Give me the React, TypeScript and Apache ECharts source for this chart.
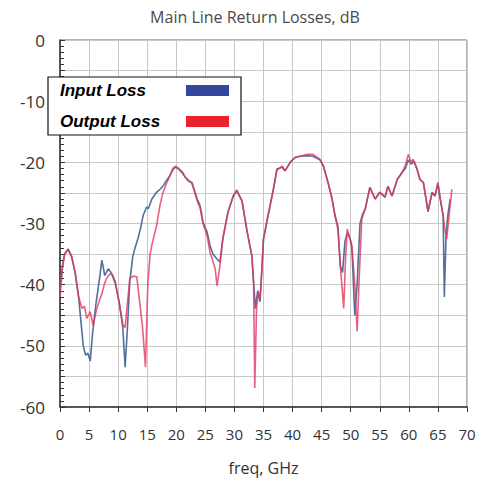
import React, { useEffect, useRef } from 'react';
import * as echarts from 'echarts';

const chartTitle = 'Main Line Return Losses, dB';
const xAxisName = 'freq, GHz';
const seriesNames = ['Input Loss', 'Output Loss'];

const inputFreq = [0, 0.4, 0.8, 1.4, 2.0, 2.6, 3.2, 3.6, 4.0, 4.4, 4.8, 5.2, 5.6, 6.2, 6.8, 7.2, 7.7, 8.3, 8.9, 9.5, 10.2, 10.8, 11.2, 11.6, 12.0, 12.5, 12.9, 13.4, 13.8, 14.3, 14.9, 15.2, 15.8, 16.6, 17.2, 17.7, 18.3, 18.9, 19.4, 19.8, 20.3, 21, 21.6, 22, 22.7, 23.6, 24.1, 24.6, 25.3, 25.8, 26.3, 27, 27.5, 28, 28.9, 29.8, 30.4, 31.3, 32.2, 33, 33.3, 33.6, 34.0, 34.4, 34.7, 35, 35.8, 36.7, 37.3, 38.2, 38.7, 39.6, 40.4, 41.3, 42.5, 43.5, 44.7, 45.3, 46.1, 46.8, 47.3, 47.8, 48.2, 48.6, 49.0, 49.4, 49.9, 50.2, 50.7, 51.1, 51.6, 52.0, 52.5, 53.3, 54.2, 55, 55.9, 56.4, 57.1, 58, 58.8, 59.4, 59.9, 60.4, 60.9, 61.4, 61.9, 62.5, 63.3, 64, 64.5, 65, 65.4, 65.9, 66.1, 66.4, 66.7, 67.1];
const inputLoss = [-41, -37, -35, -34.2, -35.5, -38, -42, -46, -50, -51.5, -51.2, -52.5, -48, -43, -39, -36, -38.5, -37.4, -38.2, -39.8, -43, -47, -53.5, -47, -39.5, -35.5, -34, -32.5, -31, -28.7, -27.3, -27.6, -26, -24.9, -24.4, -23.9, -23, -22.2, -21.2, -20.8, -21, -21.7, -22.5, -23, -23.3, -26, -27.1, -29.8, -31.4, -33.6, -35, -35.8, -36.3, -32.5, -28.1, -25.5, -24.7, -26.3, -31.4, -35.3, -39.5, -43.9, -41, -42.8, -37.9, -32.5, -28.7, -24.4, -21.1, -20.8, -21.4, -20, -19.2, -19, -18.9, -19, -19.6, -20.6, -23.3, -26, -28.7, -30.5, -36.9, -38, -33, -31.5, -32.5, -34, -45, -40, -30, -28.6, -27.6, -24.1, -26, -24.9, -25.7, -23.9, -25.5, -22.8, -21.7, -21, -19.6, -20.3, -19.8, -21.1, -22.8, -23.3, -28, -24.9, -25.5, -23.5, -26, -28.7, -42, -32, -28.7, -26];

const outputFreq = [0, 0.4, 0.8, 1.4, 2.0, 2.6, 3.2, 3.8, 4.2, 4.6, 5.2, 5.7, 6.3, 6.8, 7.2, 7.6, 8.0, 8.6, 9.1, 9.5, 10.2, 10.8, 11.2, 11.7, 12.0, 12.6, 13.2, 13.6, 14.2, 14.7, 15.1, 15.5, 15.8, 16.6, 17.2, 17.7, 18.3, 18.9, 19.4, 19.9, 20.4, 21, 21.6, 22, 22.7, 23.6, 24.1, 24.6, 25.3, 25.8, 26.4, 26.7, 27, 27.5, 28, 28.9, 29.8, 30.4, 31.3, 32.2, 33, 33.3, 33.5, 33.8, 34.1, 34.4, 34.7, 35, 35.8, 36.7, 37.3, 38.2, 38.7, 39.6, 40.4, 41.3, 42.5, 43.5, 44.7, 45.3, 46.1, 46.8, 47.3, 47.8, 48.3, 48.8, 49.1, 49.4, 49.9, 50.2, 50.7, 51.1, 51.5, 51.9, 52.5, 53.3, 54.2, 55, 55.9, 56.4, 57.1, 58, 58.8, 59.4, 59.9, 60.4, 60.7, 61.4, 61.9, 62.5, 63.3, 64, 64.5, 65, 65.4, 65.9, 66.2, 66.5, 67.0, 67.4];
const outputLoss = [-42, -37.5, -35, -34.2, -35.3, -38, -42, -43.9, -43.5, -45.5, -44.4, -46.7, -44, -42.5, -41.5, -40, -39, -38.2, -38.5, -39.5, -43, -46.5, -47, -42, -39, -38.6, -38.7, -42, -47, -53.5, -40, -35, -33.5, -30.4, -27, -25, -23.5, -22.2, -21, -20.6, -21, -21.5, -22.5, -22.8, -23.5, -26.3, -27.5, -30, -32, -34.7, -36.5, -37.4, -40.2, -37, -32.5, -28.1, -25.5, -24.5, -26.3, -31.4, -35.3, -40, -56.9, -44, -41.1, -42.5, -37.9, -32.5, -28.5, -24.4, -21.3, -20.6, -21.4, -20, -19.2, -19, -18.7, -18.7, -19.5, -20.6, -23.3, -26, -28.7, -31, -38, -43.9, -36, -30.9, -32.5, -33.6, -40, -47.6, -38, -29.3, -27.6, -24.1, -26, -24.9, -25.7, -23.9, -25.5, -22.8, -21.7, -20.5, -18.7, -20, -19.5, -21.1, -22.8, -23.3, -28.1, -24.9, -25.5, -23.3, -26, -28.7, -31, -32.5, -28, -24.4];

const pair = (xs: number[], ys: number[]) => xs.map((x, i) => [x, ys[i]]);

export default function App() {
  const ref = useRef<HTMLDivElement>(null);
  useEffect(() => {
    if (!ref.current) return;
    const chart = echarts.init(ref.current, null, { renderer: 'svg' });
    const font = 'Open Sans, DejaVu Sans, sans-serif';
    const legendFont = 'Liberation Sans, Arial, sans-serif';
    chart.setOption({
      animation: false,
      backgroundColor: '#ffffff',
      grid: { left: 60, right: 25, top: 40, bottom: 72, show: true, borderColor: '#666', borderWidth: 1 },
      xAxis: {
        type: 'value', min: 0, max: 70, interval: 5,
        name: xAxisName, nameLocation: 'middle', nameGap: 53,
        nameTextStyle: { fontFamily: font, fontSize: 16, color: '#333' },
        axisLine: { show: true, onZero: false, lineStyle: { color: '#333', width: 1.5 } },
        axisTick: { show: true, length: 5, lineStyle: { color: '#333' } },
        axisLabel: { fontFamily: font, fontSize: 15, color: '#333', margin: 19 },
        splitLine: { show: true, lineStyle: { color: '#c8c8c8', width: 1 } },
      },
      yAxis: {
        type: 'value', min: -60, max: 0, interval: 5,
        axisLine: { show: true, onZero: false, lineStyle: { color: '#333', width: 1.5 } },
        axisTick: { show: true, inside: true, length: 5, lineStyle: { color: '#333' } },
        minorTick: { show: true, splitNumber: 5, length: 4, lineStyle: { color: '#333' } },
        axisLabel: {
          fontFamily: font, fontSize: 17, color: '#333', margin: 15,
          formatter: (v: number) => (v % 10 === 0 ? String(v) : ''),
        },
        splitLine: { show: true, lineStyle: { color: '#c8c8c8', width: 1 } },
      },
      graphic: [
        { type: 'text', x: 255, y: 17, z: 100, style: { text: chartTitle, fontFamily: font, fontSize: 16, fill: '#4a4a4a', align: 'center', verticalAlign: 'middle' } },
        { type: 'rect', z: 100, shape: { x: 48, y: 77, width: 193, height: 58 }, style: { fill: '#ffffff', stroke: '#111', lineWidth: 1.2 } },
        { type: 'text', z: 101, x: 60, y: 90, style: { text: seriesNames[0], fontFamily: legendFont, fontWeight: 'bold', fontStyle: 'italic', fontSize: 17, fill: '#000', verticalAlign: 'middle' } },
        { type: 'text', z: 101, x: 60, y: 121, style: { text: seriesNames[1], fontFamily: legendFont, fontWeight: 'bold', fontStyle: 'italic', fontSize: 17, fill: '#000', verticalAlign: 'middle' } },
        { type: 'rect', z: 101, shape: { x: 186, y: 85, width: 43, height: 11 }, style: { fill: '#33489c' } },
        { type: 'rect', z: 101, shape: { x: 186, y: 116, width: 43, height: 11 }, style: { fill: '#e8232b' } },
      ],
      series: [
        {
          name: seriesNames[0], type: 'line', data: pair(inputFreq, inputLoss), showSymbol: false,
          lineStyle: { color: '#52709c', width: 1.6 }, itemStyle: { color: '#52709c' }, z: 2,
        },
        {
          name: seriesNames[1], type: 'line', data: pair(outputFreq, outputLoss), showSymbol: false,
          lineStyle: { color: '#e2375f', width: 1.6, opacity: 0.8 }, itemStyle: { color: '#e2375f' }, z: 3,
        },
      ],
    });
    return () => chart.dispose();
  }, []);
  return <div ref={ref} style={{ position: 'fixed', left: 0, top: 0, width: 492, height: 481 }} />;
}
